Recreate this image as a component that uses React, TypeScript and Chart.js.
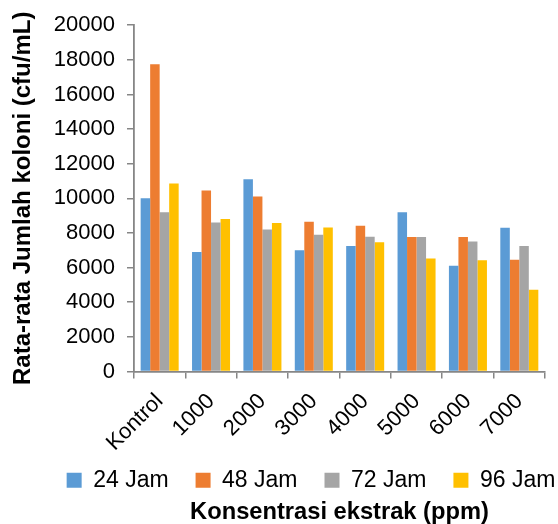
import { useEffect, useRef } from 'react';
import { Chart, registerables } from 'chart.js';

Chart.register(...registerables);

// Konsentrasi ekstrak (ppm)
const categories = ['Kontrol', '1000', '2000', '3000', '4000', '5000', '6000', '7000'];

// Rata-rata jumlah koloni (cfu/mL) per waktu inkubasi
const jam24 = [10000, 6900, 11100, 7000, 7250, 9200, 6100, 8300];
const jam48 = [17750, 10450, 10100, 8650, 8420, 7770, 7770, 6450];
const jam72 = [9200, 8600, 8200, 7900, 7780, 7770, 7500, 7250];
const jam96 = [10850, 8800, 8570, 8320, 7460, 6530, 6420, 4720];

const seriesLabels = ['24 Jam', '48 Jam', '72 Jam', '96 Jam'];
const seriesColors = ['#5B9BD5', '#ED7D31', '#A5A5A5', '#FFC000'];

const yMin = 0;
const yMax = 20000;
const yStep = 2000;

const FONT = "'Liberation Sans', Arial, Helvetica, sans-serif";
const AXIS_GREY = '#868686';

// legend row sits a bit right of centre and tucks up under the rotated category labels
const LEGEND_DX = 38.5;
const LEGEND_DY = -24.7;

const legendPlacement = {
  id: 'legendPlacement',
  afterLayout(chart: any) {
    const lg = chart.legend;
    if (lg) {
      lg.left += LEGEND_DX;
      lg.right += LEGEND_DX;
      lg.top += LEGEND_DY;
    }
  },
};

export default function App() {
  const canvasRef = useRef<HTMLCanvasElement | null>(null);

  useEffect(() => {
    const canvas = canvasRef.current;
    if (!canvas) return;
    const seriesData = [jam24, jam48, jam72, jam96];
    const chart = new Chart(canvas, {
      type: 'bar',
      data: {
        labels: categories,
        datasets: seriesData.map((d, i) => ({
          label: seriesLabels[i],
          data: d,
          backgroundColor: seriesColors[i],
          borderWidth: 0,
          categoryPercentage: 0.74,
          barPercentage: 1.0,
        })),
      },
      options: {
        responsive: false,
        devicePixelRatio: 1,
        animation: false,
        layout: { padding: { left: 0, top: 25, right: 13, bottom: 0 } },
        plugins: {
          legend: {
            position: 'bottom',
            align: 'center',
            maxHeight: 31.4,
            labels: {
              boxWidth: 15,
              boxHeight: 15,
              padding: 27,
              color: '#000',
              font: { family: FONT, size: 23 },
            },
          },
          title: {
            display: true,
            position: 'bottom',
            fullSize: false,
            text: 'Konsentrasi ekstrak (ppm)',
            color: '#000',
            font: { family: FONT, size: 23.7, weight: 'bold', lineHeight: 1 },
            padding: { top: 2.5, bottom: 0 },
          },
          tooltip: { enabled: false },
        },
        scales: {
          x: {
            grid: {
              display: true,
              offset: true,
              drawOnChartArea: false,
              drawTicks: true,
              tickLength: 7,
              color: AXIS_GREY,
              lineWidth: 1.5,
            },
            border: { display: true, color: AXIS_GREY, width: 1.8 },
            ticks: {
              color: '#000',
              font: { family: FONT, size: 22 },
              minRotation: 45,
              maxRotation: 45,
              padding: 10,
              autoSkip: false,
            },
          },
          y: {
            min: yMin,
            max: yMax,
            grid: {
              display: true,
              drawOnChartArea: false,
              drawTicks: true,
              tickLength: 7,
              color: AXIS_GREY,
              lineWidth: 1.5,
            },
            border: { display: true, color: AXIS_GREY, width: 1.8 },
            ticks: {
              stepSize: yStep,
              color: '#000',
              padding: 12,
              font: { family: FONT, size: 22 },
              callback: (v: any) => String(v),
            },
            title: {
              display: true,
              text: 'Rata-rata Jumlah koloni (cfu/mL)',
              color: '#000',
              font: { family: FONT, size: 24, weight: 'bold', lineHeight: 1.2 },
              padding: { top: 9, bottom: 4 },
            },
          },
        },
      },
      plugins: [legendPlacement],
    });
    return () => chart.destroy();
  }, []);

  return (
    <div style={{ position: 'fixed', left: 0, top: 0, width: 558, height: 524, background: '#fff' }}>
      <canvas ref={canvasRef} width={558} height={524} style={{ display: 'block' }} />
    </div>
  );
}
